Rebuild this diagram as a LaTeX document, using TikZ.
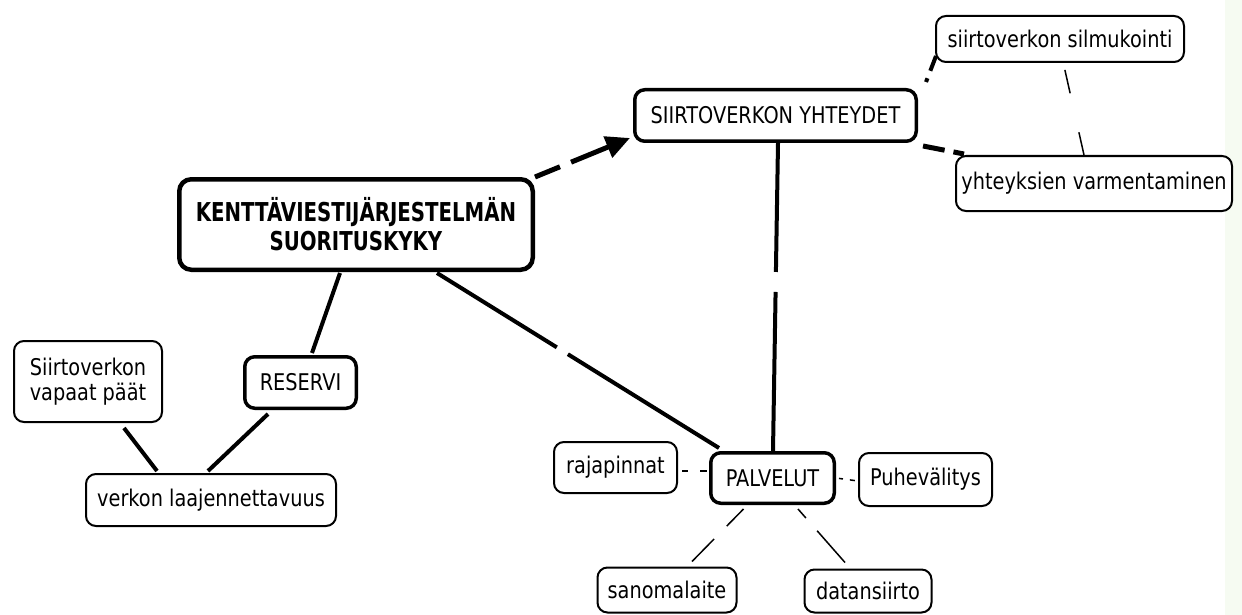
\documentclass[tikz,border=0pt]{standalone}
\usepackage{fontspec}
\setmainfont{DejaVu Sans}[FakeStretch=0.84]
\newfontfamily\boldfam{DejaVu Sans}[FakeStretch=0.76]
\usetikzlibrary{arrows.meta}
\definecolor{stripcol}{RGB}{246,251,242}
\tikzset{
  box/.style={draw=black, fill=white, rounded corners=10pt, line width=2pt, inner sep=0pt,
    align=center, font=\fontsize{23}{25}\selectfont},
  thickbox/.style={box, line width=3.5pt},
  mainbox/.style={box, line width=4.5pt, rounded corners=12pt,
    font=\boldfam\bfseries\fontsize{26}{29}\selectfont},
  heavy/.style={line width=4pt},
  thin/.style={line width=1.5pt},
}
\begin{document}
\begin{tikzpicture}[x=1pt,y=-1pt]
\useasboundingbox (0,0) rectangle (1242,615);
\fill[white] (0,0) rectangle (1242,615);
\fill[stripcol] (1225,0) rectangle (1242,615);

% nodes
\node[mainbox, minimum width=353.5pt, minimum height=90.5pt] (main) at (356,224.5) {KENTTÄVIESTIJÄRJESTELMÄN\\SUORITUSKYKY};
\node[thickbox, minimum width=281.5pt, minimum height=51.5pt] (yht) at (775.5,115.5) {SIIRTOVERKON YHTEYDET};
\node[box, minimum width=248pt, minimum height=46pt] (silm) at (1060,39) {siirtoverkon silmukointi};
\node[box, minimum width=276pt, minimum height=55pt] (varm) at (1094,183.5) {yhteyksien varmentaminen};
\node[box, minimum width=148pt, minimum height=81pt] (vapaat) at (88,381.5) {Siirtoverkon\\vapaat päät};
\node[thickbox, minimum width=111.5pt, minimum height=51.5pt] (res) at (300.5,382.5) {RESERVI};
\node[box, minimum width=250pt, minimum height=52pt] (laaj) at (211,500) {verkon laajennettavuus};
\node[box, minimum width=123pt, minimum height=51pt] (raja) at (615.5,467.5) {rajapinnat};
\node[thickbox, minimum width=123.5pt, minimum height=50.5pt] (palv) at (772.5,478) {PALVELUT};
\node[box, minimum width=133pt, minimum height=53pt] (puhe) at (925.5,479.5) {Puhevälitys};
\node[box, minimum width=139pt, minimum height=45pt] (sanom) at (667,590) {sanomalaite};
\node[box, minimum width=127pt, minimum height=43pt] (datan) at (868,591) {datansiirto};

% connectors
\draw[line width=5pt, dash pattern=on 27pt off 12pt on 80pt off 10pt,
  -{Triangle[length=24pt,width=22pt]}]
  (main.north east) -- ([xshift=-3pt,yshift=5pt]yht.south west);
\draw[heavy, dash pattern=on 129pt off 20pt on 400pt off 10pt]
  ([xshift=2.5pt]yht.south) -- ([xshift=0.5pt]palv.north);
\draw[heavy, dash pattern=on 141pt off 13pt on 400pt off 10pt]
  ([xshift=81pt,yshift=-1pt]main.south) -- ([xshift=10pt,yshift=3pt]palv.north west);
\draw[heavy] ([xshift=-16pt,yshift=-1pt]main.south) -- ([xshift=11.5pt,yshift=2pt]res.north);
\draw[heavy] ([xshift=-32.5pt,yshift=-4pt]res.south) -- ([xshift=-3pt,yshift=2pt]laaj.north);
\draw[heavy] ([xshift=36pt,yshift=-5pt]vapaat.south) -- ([xshift=-54pt,yshift=2pt]laaj.north);
\draw[heavy, dash pattern=on 4pt off 8pt on 30pt off 10pt]
  ([xshift=8pt,yshift=6pt]yht.north east) -- ([xshift=1pt,yshift=7pt]silm.south west);
\draw[line width=5pt, dash pattern=on 22pt off 9pt on 30pt off 10pt]
  ([xshift=5pt,yshift=-3pt]yht.south east) -- ([xshift=9pt,yshift=1pt]varm.north west);
\draw[thin, dash pattern=on 0pt off 4pt on 24pt off 40pt on 40pt off 10pt]
  ([xshift=4pt,yshift=-3pt]silm.south) -- ([xshift=-10pt]varm.north);
\draw[thin, dash pattern=on 0pt off 4pt on 6pt off 12pt on 7pt off 20pt]
  ([yshift=-3.5pt]raja.east) -- ([yshift=7pt]palv.west);
\draw[thin, dash pattern=on 0pt off 3pt on 4pt off 7pt on 5pt off 20pt]
  (palv.east) -- ([yshift=-1.5pt]puhe.west);
\draw[thin, dash pattern=on 24pt off 18pt on 40pt off 10pt]
  ([xshift=-29pt,yshift=-4pt]palv.south) -- ([xshift=25pt,yshift=5pt]sanom.north);
\draw[thin, dash pattern=on 12pt off 17pt on 50pt off 10pt]
  ([xshift=25.5pt,yshift=-4pt]palv.south) -- ([xshift=-23pt,yshift=6pt]datan.north);
\end{tikzpicture}
\end{document}
